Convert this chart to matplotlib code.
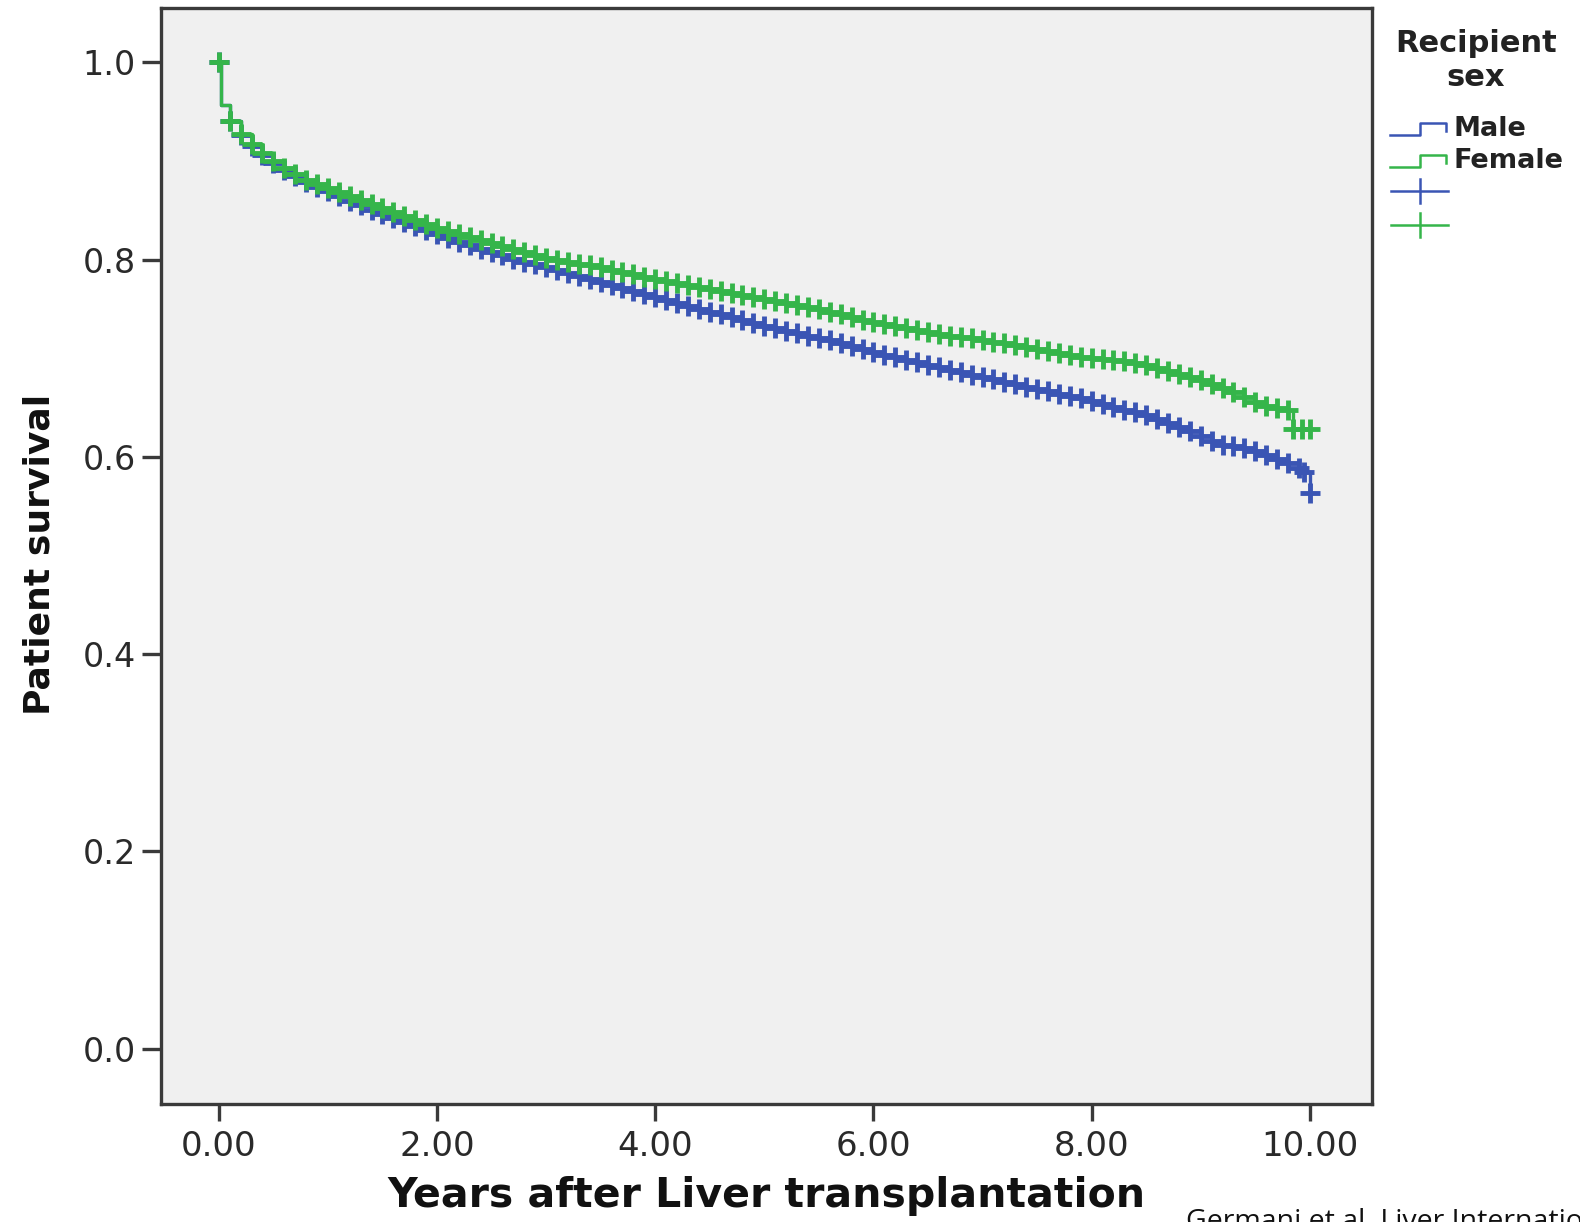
import matplotlib
matplotlib.use("Agg")
import matplotlib.pyplot as plt

# Kaplan-Meier estimates by recipient sex (years after transplant, survival)
male_years = [0.0, 0.1, 0.2, 0.3, 0.4, 0.5, 0.6, 0.7, 0.8, 0.9,
              1.0, 1.1, 1.2, 1.3, 1.4, 1.5, 1.6, 1.7, 1.8, 1.9,
              2.0, 2.1, 2.2, 2.3, 2.4, 2.5, 2.6, 2.7, 2.8, 2.9,
              3.0, 3.1, 3.2, 3.3, 3.4, 3.5, 3.6, 3.7, 3.8, 3.9,
              4.0, 4.1, 4.2, 4.3, 4.4, 4.5, 4.6, 4.7, 4.8, 4.9,
              5.0, 5.1, 5.2, 5.3, 5.4, 5.5, 5.6, 5.7, 5.8, 5.9,
              6.0, 6.1, 6.2, 6.3, 6.4, 6.5, 6.6, 6.7, 6.8, 6.9,
              7.0, 7.1, 7.2, 7.3, 7.4, 7.5, 7.6, 7.7, 7.8, 7.9,
              8.0, 8.1, 8.2, 8.3, 8.4, 8.5, 8.6, 8.7, 8.8, 8.9,
              9.0, 9.1, 9.2, 9.3, 9.4, 9.5, 9.6, 9.7, 9.8, 9.9,
              9.95, 10.0]
male_surv = [1.000, 0.940, 0.926, 0.915, 0.906, 0.898, 0.891, 0.885, 0.879, 0.874,
             0.869, 0.864, 0.859, 0.855, 0.850, 0.846, 0.842, 0.838, 0.834, 0.830,
             0.826, 0.822, 0.818, 0.815, 0.811, 0.808, 0.805, 0.801, 0.798, 0.795,
             0.792, 0.789, 0.786, 0.783, 0.780, 0.777, 0.774, 0.771, 0.768, 0.765,
             0.762, 0.759, 0.756, 0.753, 0.750, 0.747, 0.745, 0.742, 0.739, 0.736,
             0.733, 0.731, 0.728, 0.726, 0.723, 0.720, 0.718, 0.715, 0.712, 0.709,
             0.706, 0.703, 0.701, 0.698, 0.696, 0.693, 0.691, 0.688, 0.686, 0.683,
             0.681, 0.679, 0.676, 0.674, 0.671, 0.669, 0.667, 0.664, 0.662, 0.660,
             0.657, 0.654, 0.651, 0.648, 0.645, 0.642, 0.638, 0.634, 0.630, 0.626,
             0.621, 0.616, 0.612, 0.611, 0.609, 0.606, 0.602, 0.598, 0.594, 0.589,
             0.585, 0.563]

female_years = [0.0, 0.1, 0.2, 0.3, 0.4, 0.5, 0.6, 0.7, 0.8, 0.9,
                1.0, 1.1, 1.2, 1.3, 1.4, 1.5, 1.6, 1.7, 1.8, 1.9,
                2.0, 2.1, 2.2, 2.3, 2.4, 2.5, 2.6, 2.7, 2.8, 2.9,
                3.0, 3.1, 3.2, 3.3, 3.4, 3.5, 3.6, 3.7, 3.8, 3.9,
                4.0, 4.1, 4.2, 4.3, 4.4, 4.5, 4.6, 4.7, 4.8, 4.9,
                5.0, 5.1, 5.2, 5.3, 5.4, 5.5, 5.6, 5.7, 5.8, 5.9,
                6.0, 6.1, 6.2, 6.3, 6.4, 6.5, 6.6, 6.7, 6.8, 6.9,
                7.0, 7.1, 7.2, 7.3, 7.4, 7.5, 7.6, 7.7, 7.8, 7.9,
                8.0, 8.1, 8.2, 8.3, 8.4, 8.5, 8.6, 8.7, 8.8, 8.9,
                9.0, 9.1, 9.2, 9.3, 9.4, 9.5, 9.6, 9.7, 9.8, 9.85,
                9.93, 10.0]
female_surv = [1.000, 0.940, 0.927, 0.917, 0.908, 0.900, 0.893, 0.887, 0.881, 0.877,
               0.873, 0.868, 0.864, 0.860, 0.856, 0.852, 0.848, 0.844, 0.840, 0.836,
               0.832, 0.829, 0.826, 0.823, 0.820, 0.817, 0.814, 0.811, 0.808, 0.805,
               0.802, 0.800, 0.798, 0.796, 0.794, 0.792, 0.789, 0.787, 0.785, 0.782,
               0.780, 0.778, 0.776, 0.774, 0.772, 0.770, 0.768, 0.766, 0.764, 0.762,
               0.760, 0.758, 0.756, 0.754, 0.752, 0.750, 0.747, 0.745, 0.742, 0.739,
               0.737, 0.735, 0.733, 0.731, 0.729, 0.727, 0.725, 0.723, 0.721, 0.720,
               0.718, 0.716, 0.715, 0.713, 0.711, 0.709, 0.707, 0.705, 0.703, 0.701,
               0.700, 0.699, 0.698, 0.697, 0.695, 0.693, 0.690, 0.687, 0.684, 0.681,
               0.678, 0.674, 0.670, 0.666, 0.661, 0.656, 0.652, 0.650, 0.647, 0.628,
               0.628, 0.628]

# early post-operative deaths shared by both groups (event only, no censoring)
early_event_year = 0.02
early_event_surv = 0.957

x_ticks = [0, 2, 4, 6, 8, 10]
x_tick_labels = ["0.00", "2.00", "4.00", "6.00", "8.00", "10.00"]
y_ticks = [0.0, 0.2, 0.4, 0.6, 0.8, 1.0]
y_tick_labels = ["0.0", "0.2", "0.4", "0.6", "0.8", "1.0"]

groups = ["Male", "Female"]
colors = {"Male": "#3a55b4", "Female": "#35b54a"}
spine_color = "#3a3a3a"

W, H = 1580, 1222
fig = plt.figure(figsize=(W / 100, H / 100), dpi=100)
fig.patch.set_facecolor("white")

ax = fig.add_axes([161 / W, 1 - 1104 / H, (1372 - 161) / W, (1104 - 8) / H])
ax.set_facecolor("#f0f0f0")

series = {"Male": (male_years, male_surv), "Female": (female_years, female_surv)}
for g in groups:
    yrs, surv = series[g]
    line_x = [yrs[0], early_event_year] + list(yrs[1:])
    line_y = [surv[0], early_event_surv] + list(surv[1:])
    ax.step(line_x, line_y, where="post", color=colors[g], lw=2.4, zorder=3)
    ax.plot(yrs, surv, ls="none", marker="+", ms=15, mew=3.5,
            color=colors[g], zorder=3)

ax.set_xlim(-0.53, 10.57)
ax.set_ylim(-0.056, 1.055)
ax.set_xticks(x_ticks)
ax.set_xticklabels(x_tick_labels)
ax.set_yticks(y_ticks)
ax.set_yticklabels(y_tick_labels)

for s in ax.spines.values():
    s.set_color(spine_color)
    s.set_linewidth(2.4)
ax.tick_params(axis="both", colors=spine_color, width=2.4,
               labelcolor="#2a2a2a", direction="out")
ax.tick_params(axis="y", length=14, pad=4, labelsize=24)
ax.tick_params(axis="x", length=12, pad=7, labelsize=24.5)

fig.text(766 / W, 1 - 1196 / H, "Years after Liver transplantation",
         ha="center", va="center", fontsize=29.5, fontweight="bold", color="#111111")
fig.text(40 / W, 1 - 554 / H, "Patient survival", rotation=90,
         ha="center", va="center", fontsize=26, fontweight="bold", color="#111111")

# legend drawn in figure pixel space to the right of the plot
lax = fig.add_axes([0, 0, 1, 1], zorder=5)
lax.set_xlim(0, W)
lax.set_ylim(H, 0)
lax.axis("off")
lax.text(1476, 44, "Recipient", ha="center", va="center", fontsize=22,
         fontweight="bold", color="#222222")
lax.text(1476, 78, "sex", ha="center", va="center", fontsize=22,
         fontweight="bold", color="#222222")
for i, g in enumerate(groups):
    yc = 129 + i * 32
    lax.plot([1390, 1420, 1420, 1446, 1446], [yc + 6, yc + 6, yc - 6, yc - 6, yc + 2],
             color=colors[g], lw=1.8)
    lax.text(1454, yc, g, ha="left", va="center", fontsize=19.5,
             fontweight="bold", color="#222222")
for i, g in enumerate(groups):
    yc = 191 + i * 34
    lax.plot([1391, 1448], [yc, yc], color=colors[g], lw=1.8)
    lax.plot([1420, 1420], [yc - 12, yc + 12], color=colors[g], lw=1.8)

fig.text(1186 / W, 1 - 1208 / H, "Germani et al. Liver International",
         ha="left", va="top", fontsize=20.5, color="#111111", family="Open Sans")

fig.savefig("out.png", dpi=100)
